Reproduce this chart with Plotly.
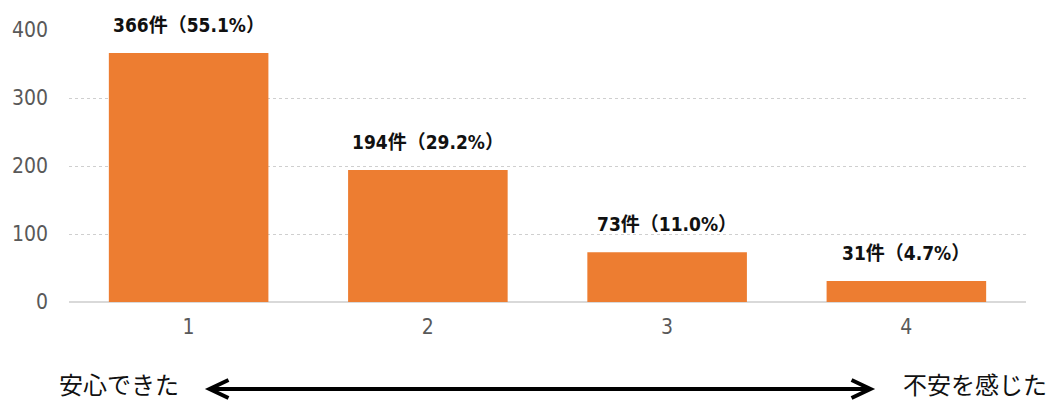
import plotly.graph_objects as go

categories = ["1", "2", "3", "4"]
positions = [1, 2, 3, 4]
counts = [366, 194, 73, 31]
percents = ["55.1", "29.2", "11.0", "4.7"]
y_ticks = [0, 100, 200, 300, 400]
left_label = "安心できた"
right_label = "不安を感じた"

BAR = "#ED7D31"
NUM_FONT = "DejaVu Sans Condensed"
JP_FONT = "Noto Sans CJK JP"

fig = go.Figure()
fig.add_trace(go.Bar(
    x=positions, y=counts, marker=dict(color=BAR, line=dict(width=0)),
    width=0.667, hoverinfo="skip", cliponaxis=False,
))

for c, v, p in zip(positions, counts, percents):
    fig.add_annotation(
        x=c, y=v, text=f"<b>{v}件（{p}%）</b>", showarrow=False,
        yanchor="bottom", yshift=15,
        font=dict(family=f"{NUM_FONT}, {JP_FONT}", size=19, color="#111111"),
    )

# arrow (paper coordinates; plot area 66..1026 x, 30..302 y)
ay = (302 - 389) / 272
x0, x1 = (207 - 66) / 960, (870 - 66) / 960
dx, dy = 19 / 960, 9 / 272
fig.add_shape(type="line", xref="paper", yref="paper", x0=x0 + 0.003, x1=x1 - 0.003,
              y0=ay, y1=ay, line=dict(color="black", width=4))
for tip, sgn in ((x0, 1), (x1, -1)):
    fig.add_shape(type="path", xref="paper", yref="paper",
                  path=f"M {tip + sgn*dx},{ay+dy} L {tip},{ay} L {tip + sgn*dx},{ay-dy}",
                  line=dict(color="black", width=4))
ty = (302 - 383) / 272
fig.add_annotation(xref="paper", yref="paper", x=(116 - 66) / 960, y=ty, text=left_label,
                   showarrow=False, xanchor="center", yanchor="middle",
                   font=dict(family=JP_FONT, size=24, color="#111111"))
fig.add_annotation(xref="paper", yref="paper", x=(975 - 66) / 960, y=ty, text=right_label,
                   showarrow=False, xanchor="center", yanchor="middle",
                   font=dict(family=JP_FONT, size=24, color="#111111"))

fig.update_layout(
    width=1059, height=401,
    margin=dict(l=66, r=33, t=30, b=99),
    paper_bgcolor="white", plot_bgcolor="white",
    showlegend=False,
    xaxis=dict(range=[0.5, 4.5], tickvals=positions, ticktext=categories,
               showgrid=False, showline=False, ticks="", zeroline=False,
               ticklabelstandoff=10,
               tickfont=dict(family=NUM_FONT, size=21, color="#595959")),
    yaxis=dict(range=[0, 400], tickvals=y_ticks, showgrid=True,
               gridcolor="#CFCFCF", griddash="dot", gridwidth=1,
               zeroline=True, zerolinecolor="#D9D9D9", zerolinewidth=2,
               showline=False, ticks="", ticklabelstandoff=20,
               tickfont=dict(family=NUM_FONT, size=21, color="#595959")),
)

fig.write_html("out.html", config={"displayModeBar": False},
               post_script="document.body.style.margin='0';document.body.style.overflow='hidden';")
